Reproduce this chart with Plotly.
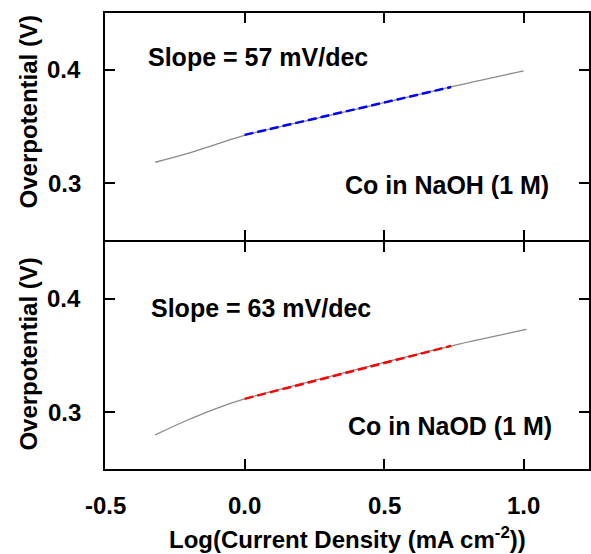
import plotly.graph_objects as go
from plotly.subplots import make_subplots

# Data
naoh_x = [-0.32, -0.2, -0.1, 0.0, 0.25, 0.5, 0.75, 1.0]
naoh_y = [0.3185, 0.3265, 0.3345, 0.3422, 0.3567, 0.3710, 0.3855, 0.3990]
naoh_fit_x = [0.0, 0.37, 0.74]
naoh_fit_y = [0.3426, 0.3637, 0.3848]

naod_x = [-0.32, -0.21, -0.1, 0.0, 0.25, 0.5, 0.75, 1.01]
naod_y = [0.2800, 0.2925, 0.3035, 0.3118, 0.3280, 0.3440, 0.3590, 0.3730]
naod_fit_x = [0.0, 0.37, 0.74]
naod_fit_y = [0.3118, 0.3351, 0.3585]

x_tickvals = [-0.5, 0.0, 0.5, 1.0]
x_ticktext = ["-0.5", "0.0", "0.5", "1.0"]
y_tickvals = [0.3, 0.4]
y_ticktext = ["0.3", "0.4"]

slope_labels = ["Slope = 57 mV/dec", "Slope = 63 mV/dec"]
sample_labels = ["Co in NaOH (1 M)", "Co in NaOD (1 M)"]
x_title = "Log(Current Density (mA cm<sup>-2</sup>))"
y_title = "Overpotential (V)"

FONT = "Liberation Sans, Arial, sans-serif"
tf = dict(family=FONT, size=24, color="black", weight="bold")

fig = make_subplots(rows=2, cols=1, shared_xaxes=True, vertical_spacing=0)

for r, (cx, cy, fx, fy, col) in enumerate(
    [(naoh_x, naoh_y, naoh_fit_x, naoh_fit_y, "#0000ff"),
     (naod_x, naod_y, naod_fit_x, naod_fit_y, "#ff0000")], start=1):
    fig.add_trace(go.Scatter(x=cx, y=cy, mode="lines", line=dict(color="#8a8a8a", width=1.3),
                             line_shape="spline", showlegend=False), row=r, col=1)
    fig.add_trace(go.Scatter(x=fx, y=fy, mode="lines",
                             line=dict(color=col, width=2.5, dash="9px,4px"),
                             showlegend=False), row=r, col=1)


def xax(**kw):
    d = dict(ticks="inside", ticklen=10, tickwidth=2, tickcolor="black",
             showline=True, linecolor="black", linewidth=2, mirror="ticks",
             range=[-0.5, 1.234], tickmode="array", tickvals=x_tickvals,
             showticklabels=False, showgrid=False, zeroline=False)
    d.update(kw)
    return d


def yax(**kw):
    d = dict(ticks="inside", ticklen=10, tickwidth=2, tickcolor="black",
             showline=True, linecolor="black", linewidth=2, mirror="ticks",
             range=[0.25, 0.45], tickmode="array", tickvals=y_tickvals,
             showticklabels=False, showgrid=False, zeroline=False)
    d.update(kw)
    return d


ann_font = dict(family=FONT, size=25, color="black", weight="bold")
anns = []
ann_pos = [("x", "y", -0.353, 0.4115, 1.098, 0.2985),
           ("x2", "y2", -0.341, 0.3922, 1.110, 0.2876)]
for i, (xr, yr, sx, sy, cx_, cy_) in enumerate(ann_pos):
    anns.append(dict(x=sx, y=sy, xref=xr, yref=yr, text=slope_labels[i], showarrow=False,
                     xanchor="left", yanchor="middle", font=ann_font))
    anns.append(dict(x=cx_, y=cy_, xref=xr, yref=yr, text=sample_labels[i], showarrow=False,
                     xanchor="right", yanchor="middle", font=ann_font))

# y tick labels (placed on the axes' own scales)
for yr in ("y", "y2"):
    for v, t in zip(y_tickvals, y_ticktext):
        anns.append(dict(x=-0.045, y=v, xref="paper", yref=yr, text=t, showarrow=False,
                         xanchor="right", yanchor="middle", font=tf))
# x tick labels on the bottom axis scale
for v, t in zip(x_tickvals, x_ticktext):
    anns.append(dict(x=v, y=-0.079, xref="x2", yref="paper", text=t, showarrow=False,
                     xanchor="center", yanchor="middle", font=tf))
# axis titles
for ty in (0.783, 0.252):
    anns.append(dict(x=-0.158, y=ty, xref="paper", yref="paper", text=y_title, textangle=-90,
                     showarrow=False, xanchor="center", yanchor="middle", font=tf))
anns.append(dict(x=0.502, y=-0.151, xref="paper", yref="paper", text=x_title,
                 showarrow=False, xanchor="center", yanchor="middle", font=tf))

fig.update_layout(
    width=591, height=554, margin=dict(l=105, r=0, t=13, b=85),
    plot_bgcolor="white", paper_bgcolor="white", showlegend=False,
    xaxis=xax(),
    xaxis2=xax(),
    yaxis=yax(domain=[0.5022, 1.0]),
    yaxis2=yax(domain=[0.0, 0.4978]),
    annotations=anns,
)

fig.write_html("out.html")
